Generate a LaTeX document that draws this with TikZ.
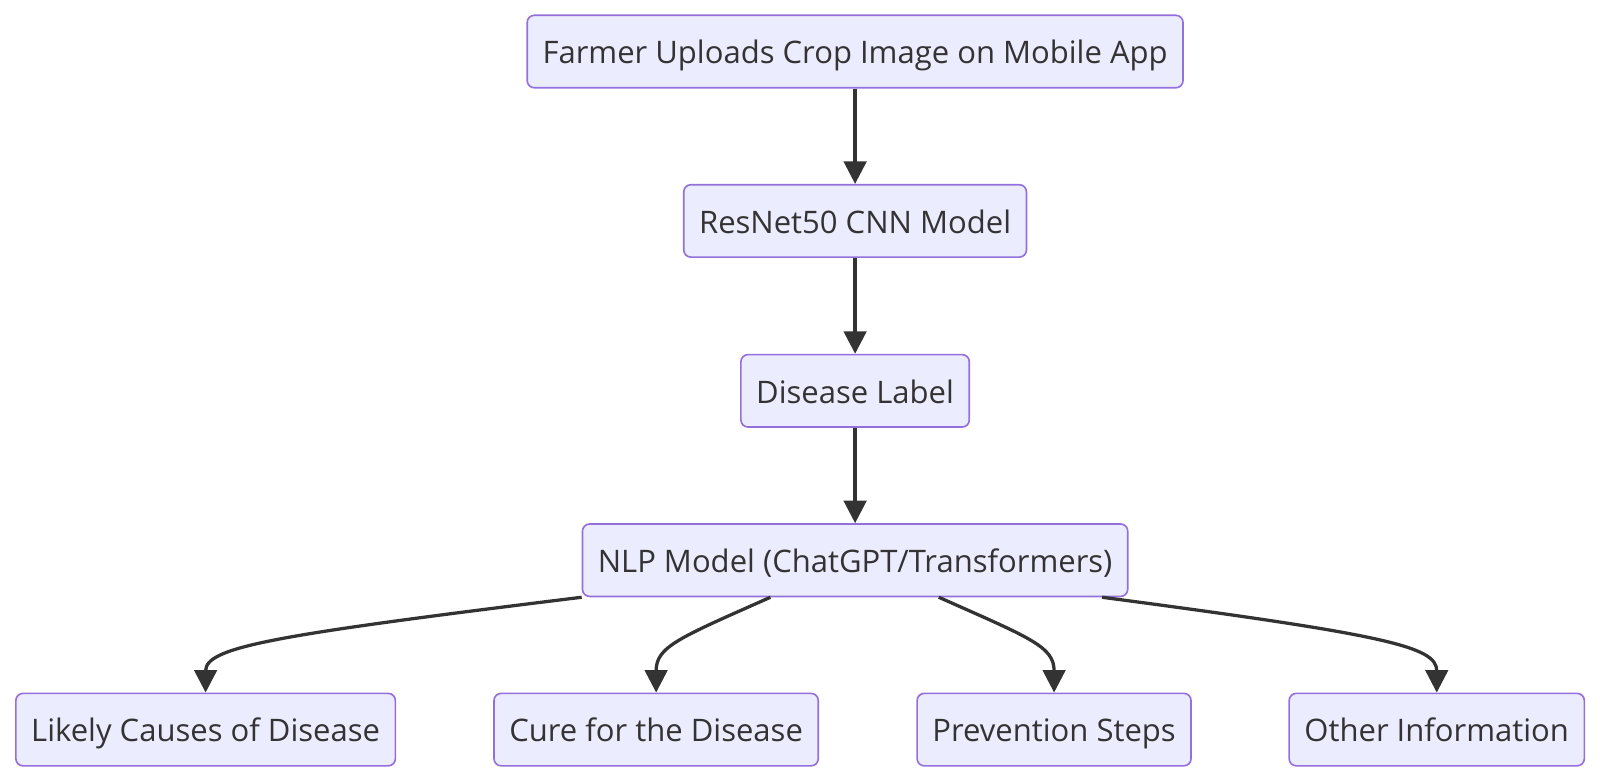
\documentclass[tikz,border=0pt]{standalone}
\usepackage{fontspec}
\setmainfont{Open Sans}
\usetikzlibrary{arrows.meta}
\definecolor{boxfill}{HTML}{ECECFF}
\definecolor{boxline}{HTML}{9370DB}
\definecolor{ink}{HTML}{333333}
\tikzset{
  stepbox/.style={draw=boxline, fill=boxfill, line width=1.6pt, rounded corners=7pt,
    text=ink, inner xsep=15pt, minimum height=71pt,
    text height=24pt, text depth=0pt,
    font=\fontsize{30.4}{36}\selectfont},
  flow/.style={draw=ink, line width=3.2pt, -{Triangle[length=22pt,width=22pt]}}
}
\begin{document}
\begin{tikzpicture}[x=1pt,y=-1pt]
      \useasboundingbox (0,0) rectangle (1568,766.3);
      \draw
        (838,50.5) node[stepbox] (upload){Farmer Uploads Crop Image on Mobile App}
        (838,216.5) node[stepbox] (resnet){ResNet50 CNN Model}
        (838,383) node[stepbox] (label){Disease Label}
        (838,549) node[stepbox] (nlp){NLP Model (ChatGPT/Transformers)}
        (201.5,715) node[stepbox] (causes){Likely Causes of Disease}
        (643,715) node[stepbox] (cure){Cure for the Disease}
        (1033,715) node[stepbox] (prevent){Prevention Steps}
        (1408,715) node[stepbox] (other){Other Information};
      \begin{scope}[flow]
        \draw (upload) to (resnet);
        \draw (resnet) to (label);
        \draw (label) to (nlp);
        \draw (nlp.south west) .. controls +(-300,37) and +(0,-45) .. (causes.north);
        \draw ([xshift=-83pt]nlp.south) .. controls +(-90,40) and +(0,-45) .. (cure.north);
        \draw ([xshift=82pt]nlp.south) .. controls +(90,40) and +(0,-45) .. (prevent.north);
        \draw ([xshift=242pt]nlp.south) .. controls +(280,37) and +(0,-45) .. (other.north);
      \end{scope}
    \end{tikzpicture}
\end{document}
